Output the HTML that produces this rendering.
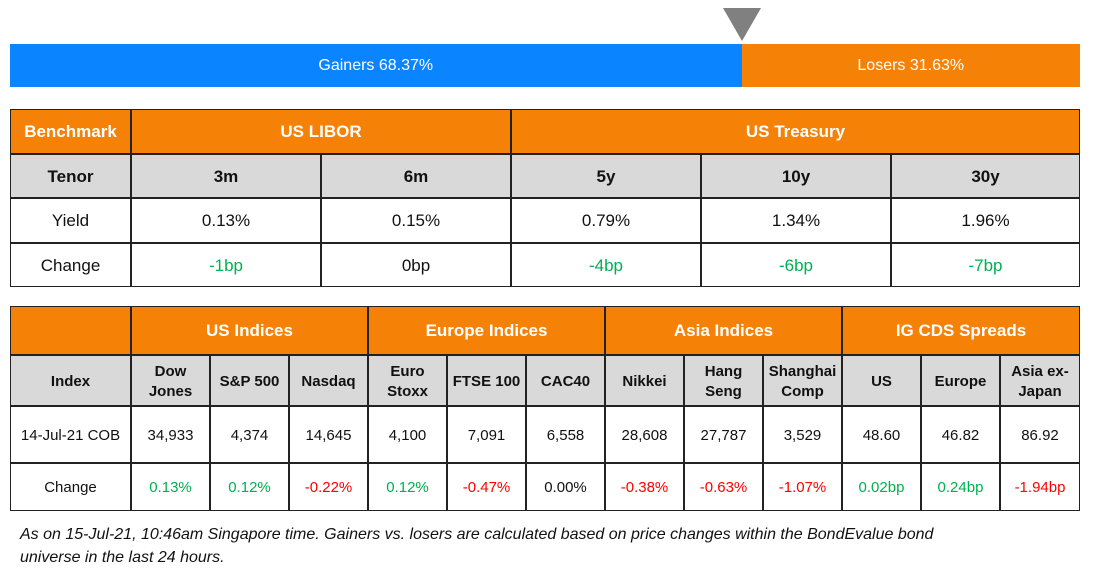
<!DOCTYPE html>
<html><head><meta charset="utf-8">
<style>
body{margin:0;width:1093px;height:577px;background:#fff;position:relative;overflow:hidden;font-family:"Liberation Sans",Arial,sans-serif;}
.c{position:absolute;box-sizing:border-box;display:flex;align-items:center;justify-content:center;text-align:center;line-height:1.3;padding-top:2px;}
.o{background:#f58207;color:#fff;font-weight:bold;font-size:17px;}
.g{background:#d9d9d9;color:#111;font-weight:bold;}
.w{background:#fff;color:#111;}
.b{border:1px solid #222;}
.pos{color:#00b050;}.neg{color:#ff0000;}
#note{position:absolute;left:20px;top:523px;width:960px;font-style:italic;font-size:16px;line-height:23px;color:#111;}
</style></head><body>
<div id="bar"></div>
<div id="t1"></div>
<div id="t2"></div>
<div id="note">As on 15-Jul-21, 10:46am Singapore time. Gainers vs. losers are calculated based on price changes within the BondEvalue bond universe in the last 24 hours.</div>
<script>
const gainersPct = 68.37;
const losersPct = 31.63;
const t1Tenors = ["3m","6m","5y","10y","30y"];
const t1Yields = ["0.13%","0.15%","0.79%","1.34%","1.96%"];
const t1Changes = ["-1bp","0bp","-4bp","-6bp","-7bp"];
const t2Groups = ["US Indices","Europe Indices","Asia Indices","IG CDS Spreads"];
const t2Names = ["Dow<br>Jones","S&amp;P 500","Nasdaq","Euro<br>Stoxx","FTSE 100","CAC40","Nikkei","Hang<br>Seng","Shanghai<br>Comp","US","Europe","Asia ex-<br>Japan"];
const t2Values = ["34,933","4,374","14,645","4,100","7,091","6,558","28,608","27,787","3,529","48.60","46.82","86.92"];
const t2Changes = ["0.13%","0.12%","-0.22%","0.12%","-0.47%","0.00%","-0.38%","-0.63%","-1.07%","0.02bp","0.24bp","-1.94bp"];

function cell(parent,x,y,w,h,cls,html,name,fs){
  const d=document.createElement('div');
  d.className='c '+cls;
  d.style.left=x+'px';d.style.top=y+'px';d.style.width=w+'px';d.style.height=h+'px';
  if(fs)d.style.fontSize=fs+'px';
  d.innerHTML=html;
  
  
  parent.appendChild(d);return d;
}
function chg(v){return v.trim().startsWith('-')?'neg':(parseFloat(v)===0?'':'pos');}
function chg1(v){return v.startsWith('-')?'pos':'';}
const bar=document.getElementById('bar');
const bx=10,bw=1070,split=bx+bw*gainersPct/(gainersPct+losersPct);
cell(bar,bx,44,split-bx,43,'','Gainers '+gainersPct.toFixed(2)+'%','gainers-segment',16).style.cssText+='background:#0a84ff;color:#fff;';
cell(bar,split,44,bx+bw-split,43,'','Losers '+losersPct.toFixed(2)+'%','losers-segment',16).style.cssText+='background:#f58207;color:#fff;';
const tri=document.createElement('div');


tri.style.cssText='position:absolute;top:8px;left:'+(split-19)+'px;width:0;height:0;border-left:19px solid transparent;border-right:19px solid transparent;border-top:33px solid #808080;';
bar.appendChild(tri);
const t1=document.getElementById('t1');
const c1=[10,131,321,511,701,891,1080];const r1=[109,154,198,243,287];
cell(t1,10,r1[0],121,45,'o b','Benchmark','benchmark-header');
cell(t1,131,r1[0],380,45,'o b','US LIBOR','us-libor-header');
cell(t1,511,r1[0],569,45,'o b','US Treasury','us-treasury-header');
cell(t1,10,r1[1],121,44,'g b','Tenor','tenor-label',17);
cell(t1,10,r1[2],121,45,'w b','Yield','yield-label',17);
cell(t1,10,r1[3],121,44,'w b','Change','change-label',17);
t1Tenors.forEach((t,i)=>{
  const x=c1[i+1],w=c1[i+2]-c1[i+1];
  cell(t1,x,r1[1],w,44,'g b',t,'tenor-'+t,17);
  cell(t1,x,r1[2],w,45,'w b',t1Yields[i],'yield-'+t,17);
  cell(t1,x,r1[3],w,44,'w b '+chg1(t1Changes[i]),t1Changes[i],'change-'+t,17);
});
const t2=document.getElementById('t2');
const c2=[10];for(let i=0;i<=12;i++)c2.push(131+i*79);c2[13]=1080;
const r2=[306,355,406,463,511];
cell(t2,10,r2[0],121,49,'o b','','corner-header');
t2Groups.forEach((g,i)=>{cell(t2,c2[1+i*3],r2[0],c2[4+i*3]-c2[1+i*3],49,'o b',g,'group-'+g.toLowerCase().replace(/\s+/g,'-'));});
cell(t2,10,r2[1],121,51,'g b','Index','index-label',15);
cell(t2,10,r2[2],121,57,'w b','14-Jul-21 COB','date-label',15);
cell(t2,10,r2[3],121,48,'w b','Change','change-label',15);
t2Names.forEach((n,i)=>{
  const x=c2[i+1],w=c2[i+2]-c2[i+1],k=n.replace(/<br>|&amp;/g,'').toLowerCase().replace(/[^a-z0-9]+/g,'-');
  cell(t2,x,r2[1],w,51,'g b',n,'index-'+k,15);
  cell(t2,x,r2[2],w,57,'w b',t2Values[i],'value-'+k,15);
  cell(t2,x,r2[3],w,48,'w b '+chg(t2Changes[i]),t2Changes[i],'change-'+k,15);
});
</script>
</body></html>
